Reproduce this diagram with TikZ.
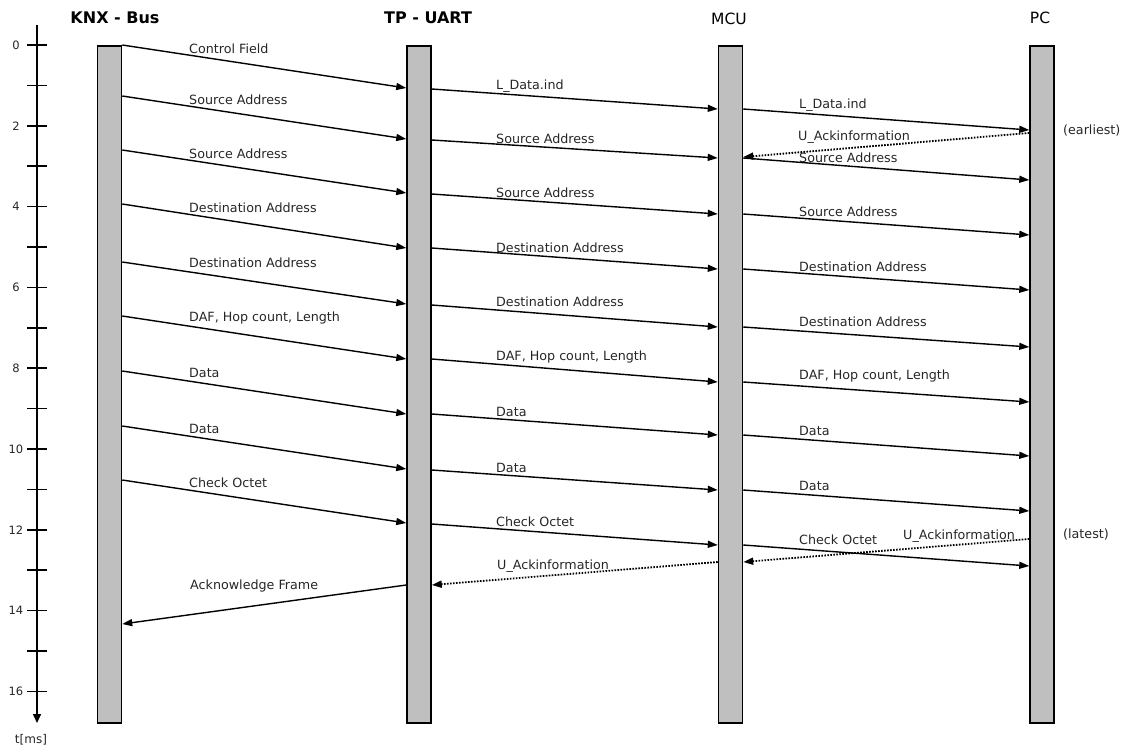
\documentclass[tikz,border=0pt]{standalone}
\usepackage{fontspec}
\setmainfont{DejaVu Sans}
\usetikzlibrary{arrows.meta}
\begin{document}
\begin{tikzpicture}[x=1pt,y=-1pt,
  bar/.style={draw=black,line width=1.5pt,fill=black!25,minimum width=24pt,minimum height=677pt,inner sep=0pt,anchor=north},
  msg/.style={line width=1.4pt,-{Triangle[length=10pt,width=7pt]}},
  ack/.style={line width=1.8pt,dash pattern=on 1.6pt off 1.4pt,-{Triangle[length=10pt,width=7pt]}},
  lbl/.style={font=\fontsize{12.7}{14}\selectfont,inner sep=0pt,anchor=base west,text=black!85},
  hdr/.style={font=\fontsize{16}{18}\selectfont\bfseries,inner sep=0pt},
  hdrr/.style={font=\fontsize{15.5}{18}\selectfont,inner sep=0pt},
  tlbl/.style={font=\fontsize{11.5}{13}\selectfont,inner sep=0pt,text=black!85}]
\useasboundingbox (0,0) rectangle (1126,747);
% axis
\coordinate (axtop) at (37,25);
\coordinate (axbot) at (37,723);
\draw[line width=1.5pt,-{Triangle[length=9pt,width=8pt]}] (axtop) -- (axbot);
\foreach \i in {0,...,16}{
  \draw[line width=1.5pt] (27,45+40.4*\i) -- (47,45+40.4*\i);
}
\foreach \i in {0,2,...,16}{
  \node[tlbl] (tl\i) at (16,45+40.4*\i) {\i};
}
\node[font=\fontsize{12}{14}\selectfont,inner sep=0pt,text=black!85] (tms) at (31,740) {t[ms]};
% headers
\node[hdr] (hknx) at (115,18) {KNX - Bus};
\node[hdr] (htp) at (428,18) {TP - UART};
\node[hdrr] (hmcu) at (729,19) {MCU};
\node[hdrr] (hpc) at (1040,18) {PC};
% bars
\node[bar] (knx) at (109.5,45) {};
\node[bar] (tp) at (419,45) {};
\node[bar] (mcu) at (730.5,45) {};
\node[bar] (pc) at (1042,45) {};
% KNX -> TP
\foreach \s/\e/\b/\t in {45/88/53/Control Field,96/139/104/Source Address,150/193/158/Source Address,204/248/212/Destination Address,262/304/267/Destination Address,316/359/321/{DAF, Hop count, Length},371/414/377/Data,426/469/433/Data,480/523/487/Check Octet}{
  \draw[msg] (knx.east |- 0,\s) -- (tp.west |- 0,\e);
  \node[lbl] at (189,\b) {\t};
}
% TP -> MCU
\foreach \s/\e/\b/\t in {89/109/89/L\_Data.ind,140/158/143/Source Address,194/214/197/Source Address,248/269/252/Destination Address,305/327/306/Destination Address,359/382/360/{DAF, Hop count, Length},414/435/416/Data,470/490/472/Data,524/545/526/Check Octet}{
  \draw[msg] (tp.east |- 0,\s) -- (mcu.west |- 0,\e);
  \node[lbl] at (496,\b) {\t};
}
% MCU -> PC
\foreach \s/\e/\b/\t in {109/130/108/L\_Data.ind,158/180/162/Source Address,214/235/216/Source Address,269/290/271/Destination Address,327/347/326/Destination Address,382/402/379/{DAF, Hop count, Length},435/456/435/Data,490/511/490/Data,545/566/544/Check Octet}{
  \draw[msg] (mcu.east |- 0,\s) -- (pc.west |- 0,\e);
  \node[lbl] at (799,\b) {\t};
}
% acknowledgements
\draw[ack] (pc.west |- 0,133) -- (mcu.east |- 0,157);
\node[lbl] (ua1) at (798,140) {U\_Ackinformation};
\node[lbl,anchor=west] (earl) at (1063,131) {(earliest)};
\draw[ack] (pc.west |- 0,539) -- (mcu.east |- 0,562);
\node[lbl] (ua2) at (903,539) {U\_Ackinformation};
\node[lbl,anchor=west] (late) at (1063,535) {(latest)};
\draw[ack] (mcu.west |- 0,562) -- (tp.east |- 0,585);
\node[lbl] (ua3) at (497,569) {U\_Ackinformation};
\draw[msg] (tp.west |- 0,585) -- (knx.east |- 0,624);
\node[lbl] (ackf) at (190,589) {Acknowledge Frame};
\end{tikzpicture}
\end{document}
